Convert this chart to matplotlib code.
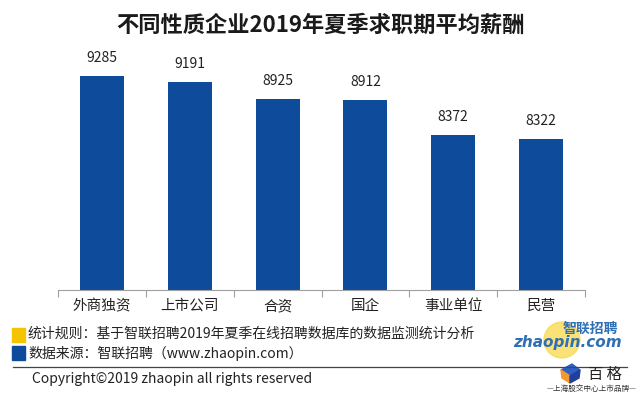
import matplotlib.pyplot as plt
from matplotlib.patches import Ellipse, Polygon, Rectangle
import numpy as np

plt.rcParams['font.family'] = ['Noto Sans CJK SC', 'DejaVu Sans']

categories = ['外商独资', '上市公司', '合资', '国企', '事业单位', '民营']
salaries = [9285, 9191, 8925, 8912, 8372, 8322]

W, H = 640, 395
fig = plt.figure(figsize=(6.4, 3.95), dpi=100)

def fx(px):
    return px / W

def fy(py):
    return 1 - py / H

# axes placed in pixel units
x0, x1, ybot, ytop = 58, 585, 290, 60
ax = fig.add_axes([fx(x0), fy(ybot), (x1 - x0) / W, (ybot - ytop) / H])

x = np.arange(len(categories))
ax.bar(x, salaries, width=0.5, color='#0E4C9B')
for xi, v in zip(x, salaries):
    ax.text(xi, v + 170, str(v), ha='center', va='bottom', fontsize=10, color='#222222')

ax.set_xlim(-0.5, len(categories) - 0.5)
ax.set_ylim(6000, 6000 + (ybot - ytop) * 15.35)
ax.set_yticks([])
for s in ['top', 'right', 'left']:
    ax.spines[s].set_visible(False)
ax.spines['bottom'].set_color('#A0A0A0')
ax.set_xticks(np.arange(-0.5, len(categories), 1.0))
ax.set_xticklabels([])
ax.tick_params(axis='x', length=5, color='#A0A0A0')
for xi, c in zip(x, categories):
    ax.text(xi, -16 / (ybot - ytop), c, transform=ax.get_xaxis_transform(), ha='center',
            va='center', fontsize=10.5, color='#222222')

fig.text(0.5, fy(25), '不同性质企业2019年夏季求职期平均薪酬', ha='center', va='center',
         fontsize=16, fontweight='bold', color='#1a1a1a')

# footer notes
fig.patches.append(Rectangle((fx(12), fy(342)), 13 / W, 14 / H, transform=fig.transFigure,
                             color='#F5C400'))
fig.text(fx(28), fy(334), '统计规则：基于智联招聘2019年夏季在线招聘数据库的数据监测统计分析',
         ha='left', va='center', fontsize=10, color='#222222')
fig.patches.append(Rectangle((fx(12), fy(360)), 13 / W, 14 / H, transform=fig.transFigure,
                             color='#0E4C9B'))
fig.text(fx(28), fy(353), '数据来源：智联招聘（www.zhaopin.com）',
         ha='left', va='center', fontsize=10, color='#222222')
fig.add_artist(plt.Line2D([fx(13), fx(627)], [fy(367), fy(367)], color='#444444', lw=0.9))
fig.text(fx(32), fy(379), 'Copyright©2019 zhaopin all rights reserved',
         ha='left', va='center', fontsize=10, color='#222222')

# logos
fig.patches.append(Ellipse((fx(562), fy(340)), 36 / W, 36 / H, transform=fig.transFigure,
                           color='#FAD94A', alpha=0.75))
fig.text(fx(590), fy(329), '智联招聘', ha='center', va='center', fontsize=10,
         fontweight='bold', style='italic', color='#2F6FB5')
fig.text(fx(567), fy(343), 'zhaopin.com', ha='center', va='center', fontsize=11,
         fontweight='bold', style='italic', color='#2F6FB5', family='DejaVu Sans')
fig.patches.append(Polygon([(fx(561), fy(370)), (fx(572), fy(364)), (fx(580), fy(370)),
                            (fx(570), fy(376))], closed=True, transform=fig.transFigure,
                           color='#2E5FC8'))
fig.patches.append(Polygon([(fx(561), fy(370)), (fx(570), fy(376)), (fx(570), fy(383)),
                            (fx(562), fy(378))], closed=True, transform=fig.transFigure,
                           color='#F29A2E'))
fig.patches.append(Polygon([(fx(570), fy(376)), (fx(580), fy(370)), (fx(579), fy(378)),
                            (fx(570), fy(383))], closed=True, transform=fig.transFigure,
                           color='#1F3F9A'))
fig.text(fx(605), fy(374), '百 格', ha='center', va='center', fontsize=11, color='#222222')
fig.text(fx(592), fy(389), '—上海股交中心上市品牌—', ha='center', va='center', fontsize=5.5,
         color='#333333')

fig.savefig('out.png', dpi=100)
